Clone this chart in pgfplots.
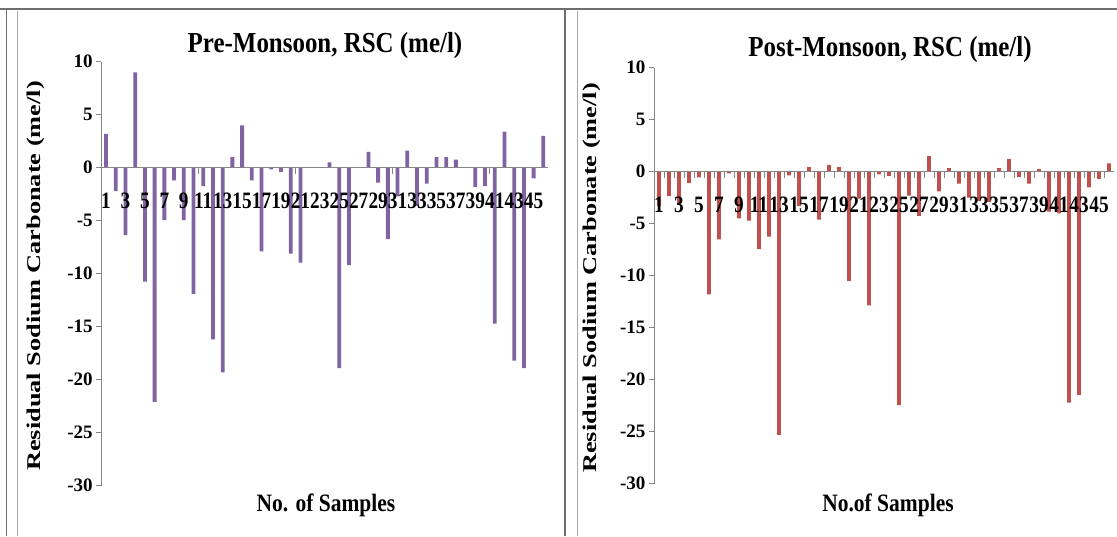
\documentclass[border=0pt]{standalone}
\usepackage{fontspec}
\setmainfont{Liberation Serif}
\newfontfamily\titlefont[FakeStretch=0.86]{Liberation Serif}
\newfontfamily\tickfont[FakeStretch=0.82]{Liberation Serif}
\newfontfamily\ylabfont[FakeStretch=1.35]{Liberation Serif}
\usepackage{pgfplots}
\pgfplotsset{compat=1.18}
\usepackage{pgfplotstable}

\definecolor{prebar}{HTML}{8064A2}
\definecolor{postbar}{HTML}{C0504D}
\definecolor{axisgray}{HTML}{868686}
\definecolor{framegray}{HTML}{6E6E6E}

% RSC (me/l) per sample, pre-monsoon
\pgfplotstableread{
n v
1 3.2
2 -2.2
3 -6.35
4 9.0
5 -10.75
6 -22.1
7 -4.95
8 -1.2
9 -4.95
10 -11.9
11 -1.75
12 -16.2
13 -19.3
14 1.0
15 4.0
16 -1.2
17 -7.9
18 -0.15
19 -0.4
20 -8.1
21 -8.95
22 0
23 0
24 0.5
25 -18.9
26 -9.2
27 0
28 1.5
29 -1.4
30 -6.75
31 -2.7
32 1.6
33 -3.6
34 -1.5
35 1.0
36 1.0
37 0.75
38 0
39 -1.8
40 -1.75
41 -14.7
42 3.4
43 -18.2
44 -18.9
45 -1.0
46 3.0
}\pretable

% RSC (me/l) per sample, post-monsoon
\pgfplotstableread{
n v
1 -3.3
2 -2.35
3 -3.2
4 -1.1
5 -0.55
6 -11.8
7 -6.5
8 -0.15
9 -4.5
10 -4.7
11 -7.45
12 -6.25
13 -25.3
14 -0.35
15 -3.3
16 0.45
17 -4.6
18 0.65
19 0.45
20 -10.5
21 -2.6
22 -12.85
23 -0.25
24 -0.4
25 -22.45
26 -2.3
27 -4.25
28 1.5
29 -1.9
30 0.35
31 -1.15
32 -2.5
33 -2.8
34 -2.9
35 0.35
36 1.2
37 -0.5
38 -1.15
39 0.25
40 -3.85
41 -4.0
42 -22.2
43 -21.45
44 -1.5
45 -0.7
46 0.8
}\posttable

\pgfplotsset{
  rscpanel/.style={
    scale only axis, axis on top,
    xmin=0.5, xmax=46.5, ymin=-30, ymax=10,
    axis x line=middle, axis y line=left,
    axis line style={draw=axisgray, line width=0.8pt, -},
    ytick={-30,-25,-20,-15,-10,-5,0,5,10},
    yticklabels={-30,-25,-20,-15,-10,-5,0,5,10},
    yticklabel style={font=\bfseries\fontsize{19}{20}\selectfont, black},
    xtick={1,3,...,45},
    xticklabels={1,3,5,7,9,11,13,15,17,19,21,23,25,27,29,31,33,35,37,39,41,43,45},
    xticklabel style={font=\tickfont\bfseries\fontsize{23.5}{25}\selectfont, black, yshift=-17pt},
    tick align=outside,
    major tick length=5pt, minor tick length=6pt,
    tick style={axisgray, line width=0.8pt},
    every major x tick/.append style={draw=none},
    ybar, bar width=3.8pt,
  }
}

\begin{document}
\begin{tikzpicture}[x=1pt,y=1pt]
\path[use as bounding box] (0,0) rectangle (1117,536);
% panel frames
\draw[framegray, line width=2pt] (0,527) -- (1117,527);
\draw[framegray, line width=1.2pt] (6.5,0) -- (6.5,527);
\draw[axisgray!70, line width=1pt] (17.5,0) -- (17.5,525);
\draw[framegray, line width=1.2pt] (565,0) -- (565,527);
\draw[axisgray!70, line width=1pt] (577,0) -- (577,525);

\begin{axis}[rscpanel, at={(101.2pt,50.3pt)}, anchor=south west,
  width=447pt, height=424pt,
  minor xtick={10.5,20.5,30.5,40.5}]
\addplot[fill=prebar, draw=none] table[x=n, y=v] {\pretable};
\end{axis}

\begin{axis}[rscpanel, at={(654pt,52.3pt)}, anchor=south west,
  width=460pt, height=416pt,
  minor xtick={1.5,2.5,...,45.5}]
\addplot[fill=postbar, draw=none] table[x=n, y=v] {\posttable};
\end{axis}

\node[font=\titlefont\bfseries\fontsize{29}{32}\selectfont] at (325,490) {Pre-Monsoon, RSC (me/l)};
\node[font=\titlefont\bfseries\fontsize{29}{32}\selectfont] at (890,486) {Post-Monsoon, RSC (me/l)};
\node[rotate=90, font=\ylabfont\bfseries\fontsize{19.5}{22}\selectfont] at (36,260) {Residual Sodium Carbonate (me/l)};
\node[rotate=90, font=\ylabfont\bfseries\fontsize{19.5}{22}\selectfont] at (592,258) {Residual Sodium Carbonate (me/l)};
\node[font=\titlefont\bfseries\fontsize{25}{28}\selectfont] at (326,31) {No. of Samples};
\node[font=\titlefont\bfseries\fontsize{25}{28}\selectfont] at (888,31) {No.of Samples};
\end{tikzpicture}
\end{document}
